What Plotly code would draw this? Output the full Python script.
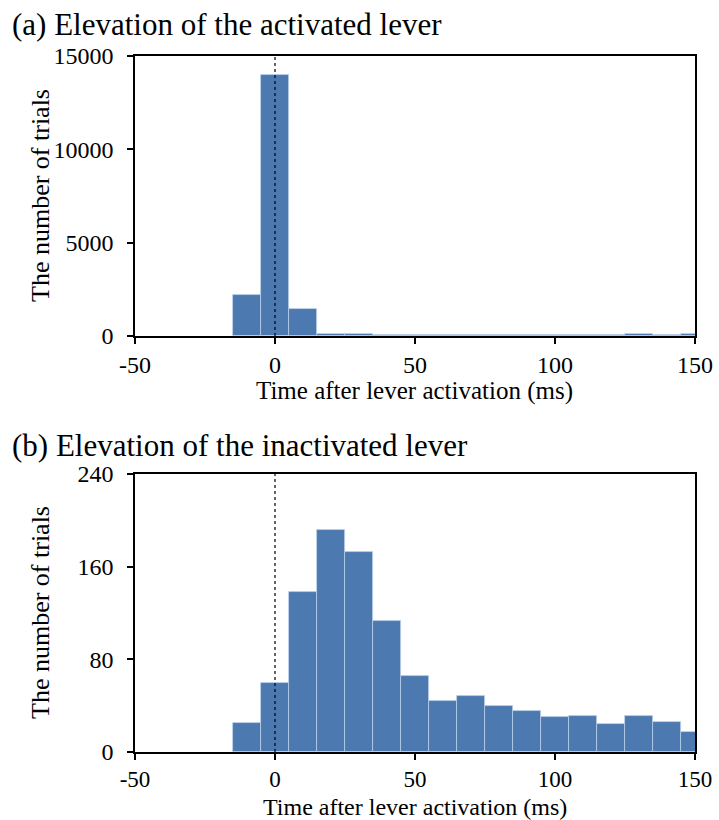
import plotly.graph_objects as go

# ---------------- data ----------------
bin_centers_a = [-10, 0, 10, 20, 30, 40, 50, 60, 70, 80, 90, 100, 110, 120, 130, 140, 150]
counts_a = [2200, 14000, 1470, 90, 85, 80, 75, 70, 65, 60, 60, 30, 30, 30, 90, 30, 90]

bin_centers_b = [-10, 0, 10, 20, 30, 40, 50, 60, 70, 80, 90, 100, 110, 120, 130, 140, 150]
counts_b = [25, 60, 138, 192, 173, 113, 66, 44, 48, 40, 35, 30, 31, 24, 31, 26, 17]

bin_width = 10
x_range = [-50, 150]
x_ticks = [-50, 0, 50, 100, 150]
x_ticktext = ["-50", "0", "50", "100", "150"]
y_ticks_a = [0, 5000, 10000, 15000]
y_ticktext_a = ["0", "5000", "10000", "15000"]
y_ticks_b = [0, 80, 160, 240]
y_ticktext_b = ["0", "80", "160", "240"]
vline_x = 0

title_a = "(a) Elevation of the activated lever"
title_b = "(b) Elevation of the inactivated lever"
x_title = "Time after lever activation (ms)"
y_title = "The number of trials"

# ---------------- style ----------------
W, H = 719, 820
FONT = "Liberation Serif, Times New Roman, serif"
BAR_COLOR = "#4B79B0"
EDGE = "rgba(190,210,235,0.9)"

fig = go.Figure()
fig.add_trace(go.Bar(x=bin_centers_a, y=counts_a, width=bin_width,
                     marker=dict(color=BAR_COLOR, line=dict(color=EDGE, width=0.8)),
                     xaxis="x", yaxis="y", showlegend=False))
fig.add_trace(go.Bar(x=bin_centers_b, y=counts_b, width=bin_width,
                     marker=dict(color=BAR_COLOR, line=dict(color=EDGE, width=0.8)),
                     xaxis="x2", yaxis="y2", showlegend=False))

L, R = 135, 695
xd = [L / W, R / W]
yd_a = [1 - 336 / H, 1 - 56 / H]
yd_b = [1 - 752 / H, 1 - 474 / H]

def axis_style(size):
    return dict(showline=True, linecolor="black", linewidth=1.5, mirror=True,
                ticks="outside", ticklen=6, tickwidth=1.5, tickcolor="black",
                showgrid=False, zeroline=False, automargin=False,
                tickfont=dict(family=FONT, size=size, color="black"))

fig.update_layout(
    width=W, height=H,
    margin=dict(l=0, r=0, t=0, b=0, autoexpand=False),
    paper_bgcolor="white", plot_bgcolor="white",
    bargap=0,
    font=dict(family=FONT, color="black"),
    xaxis=dict(domain=xd, anchor="y", range=x_range, tickvals=x_ticks, ticktext=x_ticktext,
               ticklabelstandoff=0, **axis_style(24)),
    yaxis=dict(domain=yd_a, anchor="x", range=[0, 15000], tickvals=y_ticks_a,
               ticktext=y_ticktext_a, ticklabelstandoff=9, **axis_style(24)),
    xaxis2=dict(domain=xd, anchor="y2", range=x_range, tickvals=x_ticks, ticktext=x_ticktext,
                ticklabelstandoff=0, **axis_style(23)),
    yaxis2=dict(domain=yd_b, anchor="x2", range=[0, 240], tickvals=y_ticks_b,
                ticktext=y_ticktext_b, ticklabelstandoff=9, **axis_style(24)),
)

for xr, yr in [("x", "y domain"), ("x2", "y2 domain")]:
    fig.add_shape(type="line", xref=xr, yref=yr, x0=vline_x, x1=vline_x, y0=0, y1=1,
                  line=dict(color="black", width=1.2, dash="dot"))

def ann(text, x, y, size, angle=0, xanchor="center"):
    fig.add_annotation(text=text, xref="paper", yref="paper", x=x / W, y=1 - y / H,
                       xanchor=xanchor, yanchor="middle", showarrow=False, textangle=angle,
                       font=dict(family=FONT, size=size, color="black"))

ann(title_a, 10, 24, 31, xanchor="left")
ann(title_b, 10, 445, 31, xanchor="left")
ann(x_title, (L + R) / 2, 391, 25)
ann(x_title, (L + R) / 2, 807, 24)
ann(y_title, 40, 196, 26, angle=-90)
ann(y_title, 40, 613, 26, angle=-90)

fig.write_html("out.html")
